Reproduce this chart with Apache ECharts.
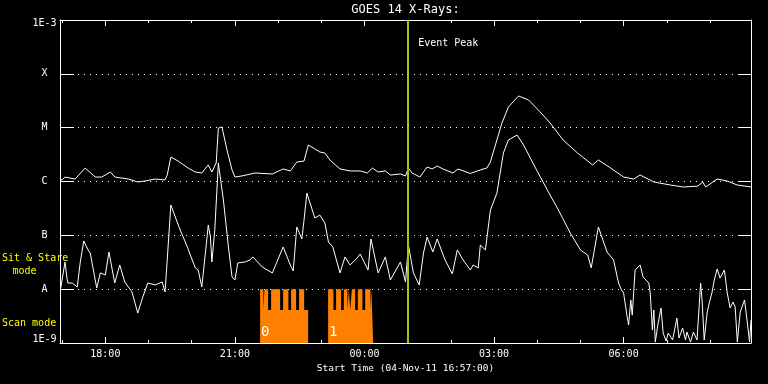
<!DOCTYPE html>
<html><head><meta charset="utf-8">
<script src="https://cdn.jsdelivr.net/npm/echarts@6/dist/echarts.min.js"></script>
<style>html,body{margin:0;padding:0;background:#000}#c{width:768px;height:384px}</style>
</head><body><div id="c"></div>
<script>
// Start: 04-Nov-11 16:57:00, span 16 h. Times are minutes after start.
const spanMinutes = 960;
const eventPeakMin = 483;
const yTickLabels = ['1E-3', 'X', 'M', 'C', 'B', 'A', '1E-9'];
// x ticks (minutes after start): labelled every 3 h, minor every hour
const xMajorTicks = [63, 243, 423, 603, 783];           // 18:00 21:00 00:00 03:00 06:00
const xTickLabels = ['18:00', '21:00', '00:00', '03:00', '06:00'];
const xMinorTicks = [3, 123, 183, 303, 363, 483, 543, 663, 723, 843, 903];

// GOES long channel (1-8 A), [minute, W/m^2]
const longChannel = [
[0,1.07e-6],[3,1.07e-6],[7,1.21e-6],[21,1.11e-6],[35,1.78e-6],[49,1.21e-6],[58,1.21e-6],[70,1.5e-6],[76,1.21e-6],[86,1.16e-6],[95,1.11e-6],[108,9.8e-7],[118,1.02e-6],[132,1.11e-6],[146,1.07e-6],[149,1.32e-6],[154,2.85e-6],[164,2.4e-6],[178,1.78e-6],[188,1.5e-6],[197,1.44e-6],[206,2.03e-6],[211,1.5e-6],[217,2.21e-6],[220,9.8e-6],[225,1.03e-5],[232,3.85e-6],[239,1.64e-6],[243,1.21e-6],[253,1.27e-6],[271,1.44e-6],[295,1.38e-6],[310,1.71e-6],[320,1.57e-6],[329,2.3e-6],[339,2.4e-6],[345,4.77e-6],[352,4.19e-6],[361,3.53e-6],[368,3.38e-6],[375,2.51e-6],[389,1.71e-6],[403,1.57e-6],[417,1.57e-6],[427,1.44e-6],[434,1.78e-6],[442,1.5e-6],[452,1.57e-6],[459,1.32e-6],[473,1.38e-6],[480,1.27e-6],[484,1.78e-6],[489,1.44e-6],[500,1.21e-6],[510,1.86e-6],[517,1.71e-6],[524,1.94e-6],[532,1.71e-6],[546,1.44e-6],[553,1.71e-6],[570,1.41e-6],[584,1.64e-6],[593,1.78e-6],[598,2.3e-6],[602,3.53e-6],[614,1.22e-5],[623,2.42e-5],[637,3.88e-5],[651,3.27e-5],[667,1.96e-5],[681,1.22e-5],[699,5.9e-6],[719,3.38e-6],[740,2.03e-6],[748,2.51e-6],[765,1.78e-6],[783,1.21e-6],[797,1.11e-6],[806,1.32e-6],[825,9.8e-7],[848,8.6e-7],[866,7.9e-7],[886,8.2e-7],[893,9.8e-7],[897,7.9e-7],[913,1.11e-6],[927,1.02e-6],[941,8.6e-7],[960,7.9e-7]
];

// GOES short channel (0.5-4 A), [minute, W/m^2]
const shortChannel = [
[1,1.05e-8],[3,1.05e-8],[7,3.2e-8],[10,1.48e-8],[11,1.3e-8],[17,1.3e-8],[24,1.1e-8],[28,3.07e-8],[33,7.86e-8],[39,5.35e-8],[42,4.7e-8],[51,1.05e-8],[56,2.0e-8],[58,2.0e-8],[63,1.84e-8],[68,4.9e-8],[70,4.7e-8],[76,1.3e-8],[83,2.81e-8],[90,1.36e-8],[100,8.86e-9],[108,3.6e-9],[115,7.15e-9],[122,1.3e-8],[132,1.2e-8],[142,1.36e-8],[146,8.86e-9],[154,3.66e-7],[167,1.25e-7],[177,6.08e-8],[181,4.32e-8],[188,2.48e-8],[192,2.27e-8],[197,1.1e-8],[202,4.7e-8],[206,1.55e-7],[209,9.3e-8],[211,3.2e-8],[215,1.25e-7],[220,2.2e-6],[222,2.3e-6],[227,4.53e-7],[234,6.08e-8],[239,1.69e-8],[243,1.48e-8],[247,3.07e-8],[257,3.2e-8],[264,3.49e-8],[268,3.97e-8],[281,2.58e-8],[295,2.0e-8],[310,6.08e-8],[320,2.81e-8],[324,2.18e-8],[329,1.43e-7],[336,8.56e-8],[339,1.9e-7],[343,6.1e-7],[354,2.1e-7],[361,2.38e-7],[368,1.69e-7],[373,7.5e-8],[379,6.08e-8],[389,2.0e-8],[396,3.97e-8],[403,2.81e-8],[413,3.8e-8],[417,4.5e-8],[428,2.27e-8],[432,8.56e-8],[442,2.0e-8],[452,3.97e-8],[459,1.48e-8],[473,3.2e-8],[480,1.36e-8],[484,6.6e-8],[491,2.0e-8],[499,1.2e-8],[505,4.7e-8],[510,9.3e-8],[518,4.9e-8],[524,8.56e-8],[535,3.49e-8],[545,1.92e-8],[552,5.35e-8],[560,3.49e-8],[570,2.27e-8],[574,2.81e-8],[581,2.48e-8],[584,6.6e-8],[591,5.35e-8],[598,2.95e-7],[607,6.1e-7],[616,3.38e-6],[623,5.9e-6],[635,7.3e-6],[644,4.77e-6],[657,2.2e-6],[677,6.95e-7],[691,3.21e-7],[709,1.1e-7],[723,5.35e-8],[733,4.32e-8],[738,2.48e-8],[748,1.43e-7],[760,4.9e-8],[769,3.49e-8],[776,1.3e-8],[780,9.65e-9],[783,8.5e-9],[788,3.04e-9],[790,2.16e-9],[793,6.3e-9],[795,3.3e-9],[799,2.27e-8],[806,2.81e-8],[810,1.69e-8],[818,1.3e-8],[820,8.5e-9],[823,1.74e-9],[825,4.1e-9],[827,1.04e-9],[831,2.35e-9],[835,4.47e-9],[838,1.53e-9],[842,1.09e-9],[845,1.53e-9],[851,1.14e-9],[853,1.53e-9],[857,2.91e-9],[860,1.24e-9],[865,1.9e-9],[869,1.14e-9],[871,1.6e-9],[876,1.04e-9],[880,1.6e-9],[885,1.14e-9],[890,1.3e-8],[892,6.3e-9],[895,1.14e-9],[899,3.6e-9],[902,5.53e-9],[906,8.86e-9],[909,1.48e-8],[913,2.37e-8],[917,1.61e-8],[923,2.27e-8],[927,8.5e-9],[931,4.47e-9],[935,5.77e-9],[938,4.67e-9],[941,1.04e-9],[945,3.76e-9],[951,6.3e-9],[955,2.35e-9],[958,1.04e-9],[960,2.67e-9]
];

// Instrument mode: 2 = tall stripe, 1 = low level, 0 = none (step changes)
const modeTimes = [278,282.6,284,289.1,293.3,305.8,310,317.3,321.1,328,332.2,339.2,344.7,
                   372.5,379.9,383.6,390.6,394.3,399.3,401.3,403.1,405.5,410.1,413.8,420.2,424,431.3,432.7,435.1];
const modeStates = [2,1,2,1,2,1,2,1,2,1,2,1,0,
                    2,1,2,1,2,1,2,1,2,1,2,1,2,1,2,0];
const blockLabelTimes = [278, 372.5];
const blockLabelTexts = ['0', '1'];

const modeFlux = {2: 1e-8, 1: 4.1e-9, 0: 1e-9};
const FONT = '"DejaVu Sans Mono", monospace';
const W = '#ffffff';

const chart = echarts.init(document.getElementById('c'), null, {renderer: 'canvas'});

function xAxisDef(position, vals, len, showLine, withLabels) {
  const a = {
    type: 'value', min: 0, max: spanMinutes, position: position, offset: 0,
    axisLine: {show: showLine, onZero: false, lineStyle: {color: W, width: 1}},
    axisTick: {show: true, inside: true, length: len, customValues: vals, lineStyle: {color: W, width: 1}},
    minorTick: {show: false},
    splitLine: {show: false},
    axisLabel: {show: false}
  };
  if (withLabels) {
    a.axisLabel = {show: true, customValues: vals, color: W, fontFamily: FONT, fontSize: 10, margin: 6,
      formatter: v => { const i = xMajorTicks.indexOf(Math.round(v)); return i >= 0 ? xTickLabels[i] : ''; }};
    a.name = 'Start Time (04-Nov-11 16:57:00)';
    a.nameLocation = 'middle';
    a.nameGap = 19;
    a.nameTextStyle = {color: W, fontFamily: FONT, fontSize: 9.5};
  }
  return a;
}
const yCommon = {
  type: 'log', logBase: 10, min: 1e-9, max: 1e-3,
  minorTick: {show: false}, minorSplitLine: {show: false}
};

chart.setOption({
  backgroundColor: '#000',
  animation: false,
  grid: {left: 60, right: 17, top: 20, bottom: 41, outerBoundsMode: 'none'},
  xAxis: [
    xAxisDef('bottom', xMajorTicks, 6, true, true),
    xAxisDef('top', xMajorTicks, 6, true, false),
    xAxisDef('bottom', xMinorTicks, 3, false, false),
    xAxisDef('top', xMinorTicks, 3, false, false)
  ],
  yAxis: [
    Object.assign({}, yCommon, {
      position: 'left',
      axisLine: {show: true, onZero: false, lineStyle: {color: W, width: 1}},
      axisTick: {show: true, inside: true, length: 14, lineStyle: {color: W, width: 1}},
      splitLine: {show: true, lineStyle: {color: W, width: 1, type: [1, 5]}},
      axisLabel: {color: W, fontFamily: FONT, fontSize: 10, align: 'center', margin: 15.5,
        formatter: v => {
          const i = Math.round(-Math.log10(v)) - 3;
          const s = yTickLabels[i] || '';
          if (i === 0) return '{t|' + s + '}';
          if (i === yTickLabels.length - 1) return '{b|' + s + '}';
          return s;
        },
        rich: {
          t: {color: W, fontFamily: FONT, fontSize: 10, padding: [6, 0, 0, 0]},
          b: {color: W, fontFamily: FONT, fontSize: 10, padding: [0, 0, 7, 0]}
        }}
    }),
    Object.assign({}, yCommon, {
      position: 'right',
      axisLine: {show: true, onZero: false, lineStyle: {color: W, width: 1}},
      axisTick: {show: true, inside: true, length: 13, lineStyle: {color: W, width: 1}},
      splitLine: {show: false},
      axisLabel: {show: false}
    })
  ],
  series: [
    {
      name: 'mode', type: 'line', step: 'end', z: 1,
      xAxisIndex: 0, yAxisIndex: 0, symbol: 'none', showSymbol: false,
      data: modeTimes.map((m, i) => [m, modeFlux[modeStates[i]]]),
      lineStyle: {width: 0, opacity: 0},
      areaStyle: {color: '#ff8000', opacity: 1, origin: 'start'}
    },
    {
      name: 'long', type: 'line', z: 3, xAxisIndex: 0, yAxisIndex: 0,
      symbol: 'none', showSymbol: false,
      data: longChannel,
      lineStyle: {color: W, width: 1}
    },
    {
      name: 'short', type: 'line', z: 3, xAxisIndex: 0, yAxisIndex: 0,
      symbol: 'none', showSymbol: false,
      data: shortChannel,
      lineStyle: {color: W, width: 1}
    },
    {
      name: 'event', type: 'line', z: 10, xAxisIndex: 0, yAxisIndex: 0, data: [],
      markLine: {
        silent: true, symbol: ['none', 'none'], animation: false,
        label: {show: false},
        lineStyle: {color: '#99cc00', width: 2, type: 'solid'},
        data: [{xAxis: eventPeakMin}]
      }
    }
  ]
});

const px = m => chart.convertToPixel({xAxisIndex: 0}, m);
const txt = (text, x, y, size, color, align) => ({
  type: 'text', x: x, y: y, z: 100,
  style: {text: text, fill: color, font: size + 'px "DejaVu Sans Mono"',
          textAlign: align, align: align, textVerticalAlign: 'middle', verticalAlign: 'middle'}
});
const g = [
  txt('GOES 14 X-Rays:', 405.5, 10, 12, W, 'center'),
  txt('Event Peak', px(eventPeakMin) + 10.5, 43, 10, W, 'left'),
  txt('Sit & Stare', 2, 258, 10, '#ffff00', 'left'),
  txt('mode', 12.5, 271, 10, '#ffff00', 'left'),
  txt('Scan mode', 2, 323.5, 10, '#ffff00', 'left')
];
blockLabelTimes.forEach((m, i) => g.push(txt(blockLabelTexts[i], px(m) + 1, 332.5, 14, W, 'left')));
chart.setOption({graphic: g});
</script>
</body></html>
